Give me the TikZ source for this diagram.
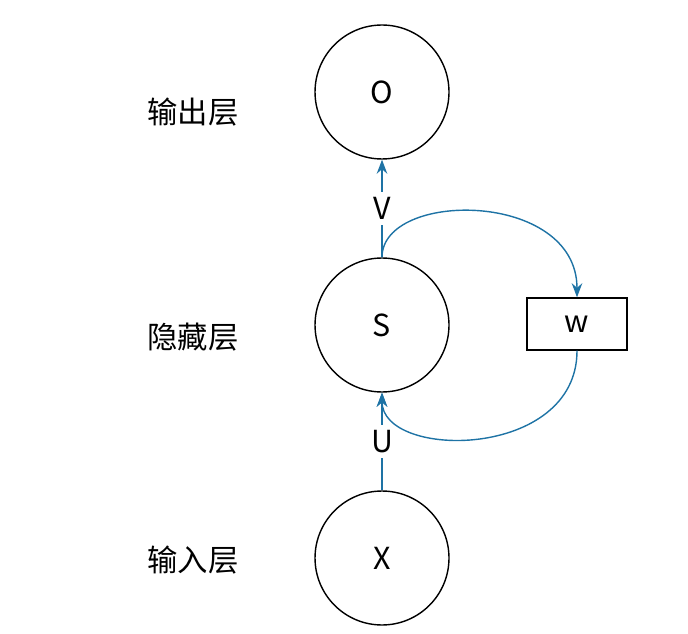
\documentclass[tikz,border=0pt]{standalone}
\usepackage{fontspec}
\setmainfont{Noto Sans CJK SC}
\usetikzlibrary{arrows.meta}
\definecolor{linkblue}{RGB}{30,115,165}
\tikzset{
    layer/.style={draw, circle, thick, minimum size=2.68cm, font=\LARGE},
    weight/.style={draw, thick, minimum width=2cm, minimum height=1.04cm, font=\LARGE},
    tag/.style={font=\LARGE},
    link/.style={draw=linkblue, thick, -{Stealth[length=8pt]}},
}
\begin{document}
\begin{tikzpicture}[x=0.02cm, y=-0.02cm]
    \useasboundingbox (0,0) rectangle (688,634);

    % Layers
    \node[layer] (o) at (382,92) {O};
    \node[layer] (s) at (382,325) {S};
    \node[layer] (x) at (382,558) {X};
    \node[weight] (w) at (577,324) {w};

    % Layer names
    \node[tag] (lo) at (193,112) {输出层};
    \node[tag] (ls) at (193,337) {隐藏层};
    \node[tag] (lx) at (193,560) {输入层};

    % Connections
    \draw[link] (s.north) -- node[fill=white, font=\LARGE, inner sep=3pt] {V} (o.south);
    \draw[link] (x.north) -- node[fill=white, font=\LARGE, inner sep=3pt] {U} (s.south);
    \draw[link] (s.north) .. controls (382,190) and (577,190) .. (w.north);
    \draw[link] (w.south) .. controls (577,460) and (382,460) .. (s.south);
\end{tikzpicture}
\end{document}
